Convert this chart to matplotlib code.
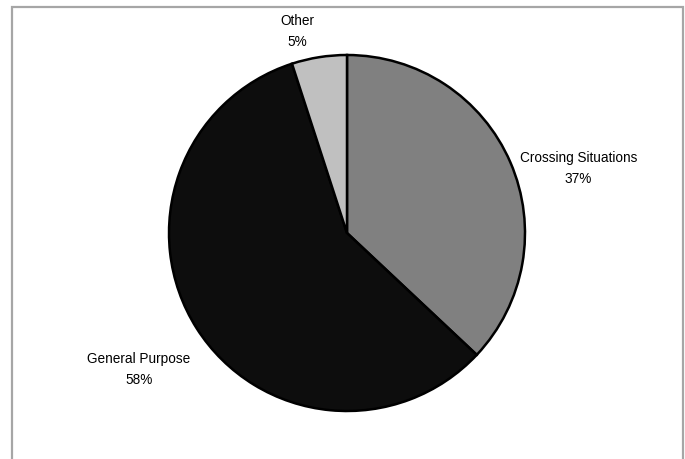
import matplotlib.pyplot as plt
from matplotlib.patches import Rectangle

plt.rcParams['font.family'] = ['Liberation Sans', 'DejaVu Sans']

# Share of scenarios by type
categories = ['Crossing Situations', 'General Purpose', 'Other']
shares = [37, 58, 5]
colors = ['#808080', '#0d0d0d', '#c0c0c0']

# label anchor points in pie coordinates (radius = 1)
label_pos = [(1.30, 0.37), (-1.17, -0.76), (-0.28, 1.14)]

fig = plt.figure(figsize=(6.85, 4.6), dpi=100)

# outer chart frame (open at the bottom edge)
fig.patches.append(Rectangle((11.5 / 685, -0.05), 671.5 / 685, 1.05 - 7.5 / 460,
                             transform=fig.transFigure, fill=False,
                             edgecolor='#a6a6a6', linewidth=1.6))

ax = fig.add_axes([(347 - 178) / 685, (226 - 178) / 460, 356 / 685, 356 / 460])
wedges, _ = ax.pie(shares, colors=colors, startangle=90, counterclock=False,
                   wedgeprops=dict(edgecolor='black', linewidth=1.8))
ax.set_xlim(-1, 1)
ax.set_ylim(-1, 1)
ax.set_aspect('equal')

total = sum(shares)
for name, val, (x, y) in zip(categories, shares, label_pos):
    ax.text(x, y, f'{name}\n{val / total * 100:.0f}%', ha='center', va='center',
            fontsize=9.8, linespacing=1.65, clip_on=False)

fig.savefig('out.png', dpi=100)
